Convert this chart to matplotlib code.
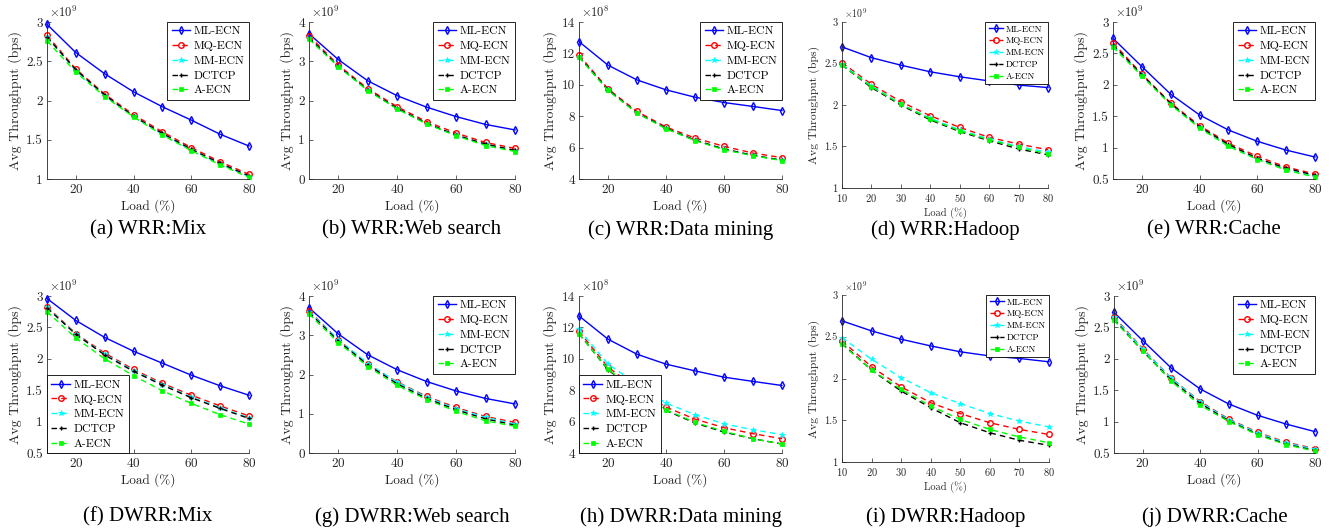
import matplotlib.pyplot as plt
from matplotlib.ticker import FuncFormatter

plt.rcParams['font.family'] = 'cmr10'
plt.rcParams['mathtext.fontset'] = 'cm'
plt.rcParams['axes.formatter.use_mathtext'] = True

load = [10, 20, 30, 40, 50, 60, 70, 80]
schemes = ['ML-ECN', 'MQ-ECN', 'MM-ECN', 'DCTCP', 'A-ECN']

# throughput values in units of 10^exp bps, one dict per panel
wrr_mix = {
    'ML-ECN': [2.97, 2.61, 2.34, 2.11, 1.92, 1.75, 1.57, 1.42],
    'MQ-ECN': [2.83, 2.40, 2.08, 1.82, 1.60, 1.40, 1.22, 1.06],
    'MM-ECN': [2.81, 2.38, 2.06, 1.80, 1.57, 1.37, 1.19, 1.03],
    'DCTCP':  [2.81, 2.39, 2.07, 1.80, 1.58, 1.38, 1.20, 1.04],
    'A-ECN':  [2.76, 2.36, 2.05, 1.79, 1.56, 1.36, 1.18, 1.02],
}
wrr_web = {
    'ML-ECN': [3.70, 3.04, 2.50, 2.12, 1.83, 1.59, 1.39, 1.25],
    'MQ-ECN': [3.65, 2.90, 2.30, 1.84, 1.46, 1.17, 0.93, 0.78],
    'MM-ECN': [3.60, 2.86, 2.26, 1.79, 1.41, 1.11, 0.88, 0.72],
    'DCTCP':  [3.60, 2.87, 2.27, 1.80, 1.42, 1.12, 0.89, 0.73],
    'A-ECN':  [3.56, 2.86, 2.25, 1.78, 1.40, 1.10, 0.85, 0.70],
}
wrr_dm = {
    'ML-ECN': [12.75, 11.25, 10.31, 9.68, 9.21, 8.87, 8.62, 8.36],
    'MQ-ECN': [11.90, 9.74, 8.30, 7.31, 6.61, 6.08, 5.65, 5.36],
    'MM-ECN': [11.78, 9.66, 8.21, 7.22, 6.47, 5.90, 5.50, 5.19],
    'DCTCP':  [11.80, 9.68, 8.22, 7.23, 6.48, 5.91, 5.51, 5.20],
    'A-ECN':  [11.75, 9.64, 8.19, 7.20, 6.44, 5.86, 5.48, 5.17],
}
wrr_hadoop = {
    'ML-ECN': [2.70, 2.57, 2.48, 2.40, 2.34, 2.29, 2.24, 2.21],
    'MQ-ECN': [2.51, 2.25, 2.04, 1.87, 1.73, 1.61, 1.53, 1.46],
    'MM-ECN': [2.49, 2.23, 2.01, 1.84, 1.70, 1.59, 1.50, 1.43],
    'DCTCP':  [2.48, 2.21, 2.00, 1.82, 1.68, 1.57, 1.47, 1.40],
    'A-ECN':  [2.48, 2.22, 2.01, 1.83, 1.69, 1.58, 1.49, 1.41],
}
wrr_cache = {
    'ML-ECN': [2.74, 2.29, 1.85, 1.52, 1.28, 1.10, 0.96, 0.85],
    'MQ-ECN': [2.67, 2.17, 1.71, 1.35, 1.07, 0.86, 0.69, 0.58],
    'MM-ECN': [2.62, 2.15, 1.69, 1.32, 1.03, 0.82, 0.65, 0.54],
    'DCTCP':  [2.64, 2.16, 1.70, 1.33, 1.05, 0.83, 0.67, 0.56],
    'A-ECN':  [2.60, 2.14, 1.68, 1.31, 1.02, 0.81, 0.64, 0.53],
}
dwrr_mix = {
    'ML-ECN': [2.96, 2.61, 2.34, 2.12, 1.93, 1.74, 1.57, 1.42],
    'MQ-ECN': [2.83, 2.40, 2.09, 1.83, 1.61, 1.42, 1.25, 1.09],
    'MM-ECN': [2.82, 2.39, 2.07, 1.81, 1.59, 1.39, 1.22, 1.06],
    'DCTCP':  [2.81, 2.39, 2.06, 1.80, 1.58, 1.38, 1.21, 1.05],
    'A-ECN':  [2.75, 2.33, 2.00, 1.73, 1.49, 1.29, 1.11, 0.96],
}
dwrr_web = {
    'ML-ECN': [3.70, 3.03, 2.50, 2.12, 1.82, 1.58, 1.39, 1.25],
    'MQ-ECN': [3.62, 2.88, 2.26, 1.81, 1.44, 1.16, 0.93, 0.78],
    'MM-ECN': [3.60, 2.89, 2.28, 1.80, 1.42, 1.13, 0.91, 0.74],
    'DCTCP':  [3.58, 2.85, 2.24, 1.76, 1.39, 1.10, 0.87, 0.71],
    'A-ECN':  [3.54, 2.81, 2.20, 1.72, 1.36, 1.06, 0.82, 0.68],
}
dwrr_dm = {
    'ML-ECN': [12.73, 11.25, 10.29, 9.66, 9.23, 8.83, 8.56, 8.30],
    'MQ-ECN': [11.75, 9.47, 8.10, 6.92, 6.16, 5.61, 5.23, 4.91],
    'MM-ECN': [11.88, 9.66, 8.40, 7.18, 6.44, 5.86, 5.48, 5.17],
    'DCTCP':  [11.60, 9.30, 7.90, 6.71, 5.91, 5.33, 4.91, 4.57],
    'A-ECN':  [11.58, 9.34, 7.93, 6.75, 5.95, 5.38, 4.91, 4.57],
}
dwrr_hadoop = {
    'ML-ECN': [2.69, 2.57, 2.47, 2.39, 2.32, 2.27, 2.24, 2.20],
    'MQ-ECN': [2.45, 2.14, 1.90, 1.71, 1.58, 1.47, 1.39, 1.33],
    'MM-ECN': [2.49, 2.23, 2.01, 1.83, 1.70, 1.58, 1.49, 1.42],
    'DCTCP':  [2.42, 2.10, 1.85, 1.65, 1.47, 1.35, 1.26, 1.20],
    'A-ECN':  [2.41, 2.10, 1.87, 1.67, 1.51, 1.39, 1.30, 1.23],
}
dwrr_cache = {
    'ML-ECN': [2.74, 2.29, 1.85, 1.52, 1.28, 1.10, 0.96, 0.84],
    'MQ-ECN': [2.67, 2.16, 1.69, 1.32, 1.04, 0.83, 0.67, 0.57],
    'MM-ECN': [2.66, 2.15, 1.69, 1.31, 1.03, 0.82, 0.66, 0.56],
    'DCTCP':  [2.63, 2.12, 1.66, 1.29, 1.01, 0.80, 0.64, 0.54],
    'A-ECN':  [2.61, 2.13, 1.64, 1.26, 1.00, 0.79, 0.63, 0.53],
}

colors = ['#0000ff', '#ff0000', '#00ffff', 'black', '#00ff00']
markers = ['d', 'o', '*', '+', 's']

# data, rect (px: left, top, right, bottom), caption, exponent, ylim, yticks, legend loc, small
panels = [
    (wrr_mix, (47, 22, 249, 179), '(a) WRR:Mix', 9, (1, 3), [1, 1.5, 2, 2.5, 3], 'upper right', False),
    (wrr_web, (309, 22, 515, 179), '(b) WRR:Web search', 9, (0, 4), [0, 1, 2, 3, 4], 'upper right', False),
    (wrr_dm, (579, 22, 782, 179), '(c) WRR:Data mining', 8, (4, 14), [4, 6, 8, 10, 12, 14], 'upper right', False),
    (wrr_hadoop, (842, 22, 1048, 188), '(d) WRR:Hadoop', 9, (1, 3), [1, 1.5, 2, 2.5, 3], 'upper right', True),
    (wrr_cache, (1113, 22, 1315, 179), '(e) WRR:Cache', 9, (0.5, 3), [0.5, 1, 1.5, 2, 2.5, 3], 'upper right', False),
    (dwrr_mix, (47, 296, 249, 453), '(f) DWRR:Mix', 9, (0.5, 3), [0.5, 1, 1.5, 2, 2.5, 3], 'lower left', False),
    (dwrr_web, (309, 296, 515, 453), '(g) DWRR:Web search', 9, (0, 4), [0, 1, 2, 3, 4], 'upper right', False),
    (dwrr_dm, (579, 296, 782, 453), '(h) DWRR:Data mining', 8, (4, 14), [4, 6, 8, 10, 12, 14], 'lower left', False),
    (dwrr_hadoop, (842, 295, 1049, 462), '(i) DWRR:Hadoop', 9, (1, 3), [1, 1.5, 2, 2.5, 3], 'upper right', True),
    (dwrr_cache, (1114, 296, 1315, 453), '(j) DWRR:Cache', 9, (0.5, 3), [0.5, 1, 1.5, 2, 2.5, 3], 'upper right', False),
]

W, H = 1332, 531
fig = plt.figure(figsize=(W / 100, H / 100), dpi=100)

for data, (l, t, r, b), caption, exp, ylim, yticks, loc, small in panels:
    ax = fig.add_axes([l / W, 1 - b / H, (r - l) / W, (b - t) / H])
    for name, c, m in zip(schemes, colors, markers):
        style = dict(color=c, marker=m, lw=1.0, clip_on=False, label=name)
        if name == 'ML-ECN':
            style.update(ls='-', mfc='none', ms=4.2, mew=1.0)
        elif name == 'MQ-ECN':
            style.update(ls=(0, (4, 3)), mfc='none', ms=4, mew=1.0)
        elif name == 'MM-ECN':
            style.update(ls=(0, (4, 3)), ms=4, mew=0.5)
        elif name == 'DCTCP':
            style.update(ls=(0, (4, 3)), ms=3.5, mew=1.0)
        else:
            style.update(ls=(0, (4, 3)), ms=3.5, mew=0.5)
        ax.plot(load, data[name], **style)

    fs_tick = 7.5 if small else 9.5
    fs_lab = 7.5 if small else 9.5
    fs_ylab = 8.5 if small else 10
    fs_leg = 6.5 if small else 8.5

    ax.set_xlim(10, 80)
    ax.set_ylim(*ylim)
    ax.set_yticks(yticks)
    ax.set_xticks(range(10, 81, 10) if small else [20, 40, 60, 80])
    ax.yaxis.set_major_formatter(FuncFormatter(lambda v, p: '%g' % v))
    for s in ['top', 'right']:
        ax.spines[s].set_visible(False)
    for s in ['left', 'bottom']:
        ax.spines[s].set_color('#262626')
        ax.spines[s].set_linewidth(0.6)
    ax.tick_params(direction='in', length=3, width=0.5, colors='#262626',
                   labelsize=fs_tick, pad=3)
    ax.set_xlabel('Load (%)', fontsize=fs_lab, color='#262626', labelpad=2)
    ax.set_ylabel('Avg Throughput (bps)', fontsize=fs_ylab, color='#262626', labelpad=3)
    ax.text(0.01, 1.01, r'$\times10^{%d}$' % exp, transform=ax.transAxes,
            fontsize=fs_tick * 0.95, color='#262626', ha='left', va='bottom')

    leg = ax.legend(loc=loc, fontsize=fs_leg, frameon=True, fancybox=False,
                    framealpha=1, edgecolor='black', borderaxespad=0,
                    handlelength=1.6, handletextpad=0.3, labelspacing=0.38,
                    borderpad=0.35, numpoints=1)
    leg.get_frame().set_linewidth(0.6)

    cy = 230 if t < 100 else 517
    fig.text((l + r) / 2 / W, 1 - cy / H, caption, ha='center', va='center',
             fontsize=15, family='Liberation Serif')

fig.savefig('out.png', dpi=100)
